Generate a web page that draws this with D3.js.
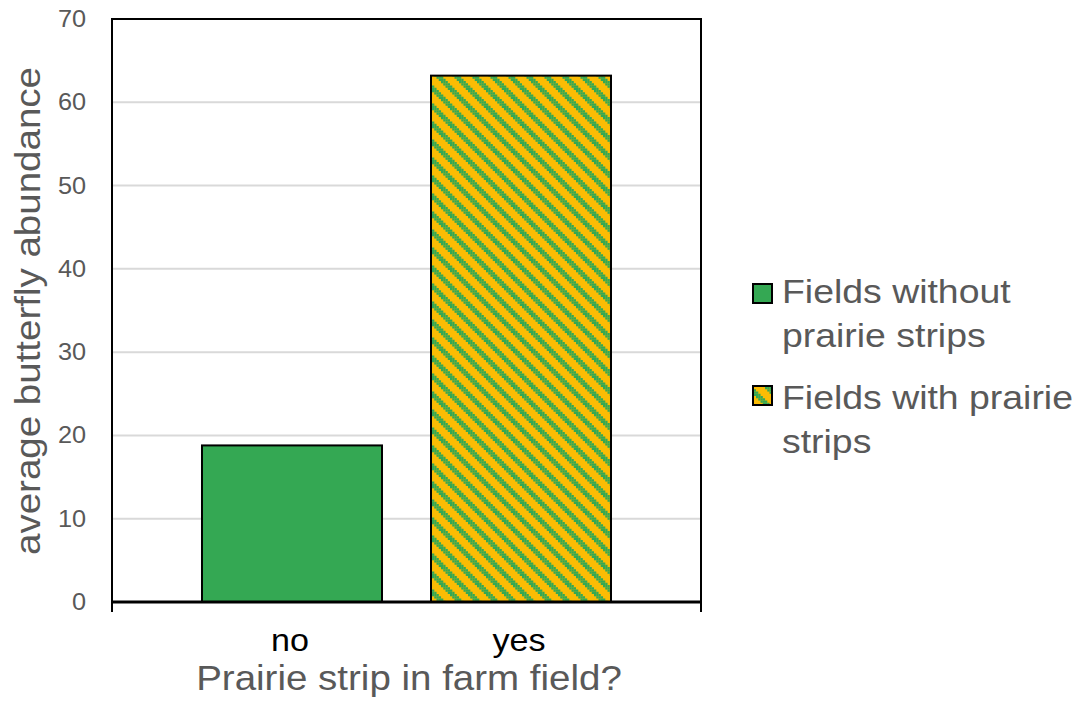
<!DOCTYPE html>
<html><head><meta charset="utf-8">
<script src="https://cdn.jsdelivr.net/npm/d3@7"></script>
<style>body{margin:0;background:#fff}svg{display:block}text{font-family:"Liberation Sans",Arial,sans-serif}</style>
</head><body>
<svg id="c" width="1084" height="706"></svg>
<script>
const categories = ["no", "yes"];
const values = [18.8, 63.2];
const seriesNames = ["Fields without prairie strips", "Fields with prairie strips"];
const legendLines = [["Fields without", "prairie strips"], ["Fields with prairie", "strips"]];
const yTicks = [0, 10, 20, 30, 40, 50, 60, 70];
const xTitle = "Prairie strip in farm field?";
const yTitle = "average butterfly abundance";

const GREEN = "#34a853", YELLOW = "#fbbc04", GREY = "#595959";
const SX = 1.1; // horizontal text stretch
const svg = d3.select("#c");
const L = 112, R = 701, T = 19, B = 602;

// pattern: wide downward diagonal, 8x8 bitmap scaled
const CELL = 2.25;
const defs = svg.append("defs");
const pat = defs.append("pattern").attr("id", "diag").attr("patternUnits", "userSpaceOnUse")
  .attr("width", CELL * 8).attr("height", CELL * 8);
pat.append("rect").attr("width", CELL * 8).attr("height", CELL * 8).attr("fill", YELLOW);
for (let r = 0; r < 8; r++) for (let k = 0; k < 3; k++) {
  pat.append("rect").attr("x", ((r + k) % 8) * CELL).attr("y", r * CELL)
    .attr("width", CELL + 0.05).attr("height", CELL + 0.05).attr("fill", GREEN);
}
const fills = [GREEN, "url(#diag)"];

const y = d3.scaleLinear().domain([0, 70]).range([B, T]);
const x = d3.scaleBand().domain(categories).range([L, R]).paddingInner(0.214).paddingOuter(0.393);

function stext(g, tx, ty, str, size, fill, anchor, rot) {
  return g.append("text")
    .attr("transform", `translate(${tx},${ty})` + (rot ? ` rotate(${rot})` : "") + ` scale(${SX},1)`)
    .attr("text-anchor", anchor || "start").attr("font-size", size).attr("fill", fill).text(str);
}

// gridlines
svg.append("g").selectAll("line").data(yTicks.filter(d => d > 0 && d < 70)).join("line")
  .attr("x1", L).attr("x2", R).attr("y1", d => y(d)).attr("y2", d => y(d))
  .attr("stroke", "#d9d9d9").attr("stroke-width", 2);

// bars
svg.append("g").selectAll("rect").data(categories).join("rect")
  .attr("x", d => x(d)).attr("width", x.bandwidth())
  .attr("y", (d, i) => y(values[i])).attr("height", (d, i) => B - y(values[i]))
  .attr("fill", (d, i) => fills[i]).attr("stroke", "#000").attr("stroke-width", 2);

// frame
svg.append("path").attr("d", `M${L},${B}V${T}H${R}V${B}`).attr("fill", "none").attr("stroke", "#000").attr("stroke-width", 2);

// y tick labels
const yg = svg.append("g");
yTicks.forEach(t => stext(yg, 86, y(t) + 8, String(t), 23, GREY, "end"));

// x axis
svg.append("line").attr("x1", L - 1).attr("x2", R + 1).attr("y1", B).attr("y2", B).attr("stroke", "#000").attr("stroke-width", 3);
svg.selectAll(".xt").data([L, R]).join("line").attr("class", "xt")
  .attr("x1", d => d).attr("x2", d => d).attr("y1", B).attr("y2", B + 10).attr("stroke", "#000").attr("stroke-width", 2);
const xg = svg.append("g");
categories.forEach(c => stext(xg, x(c) + x.bandwidth() / 2 - 2, 651, c, 31, "#000", "middle"));

// titles
stext(svg, 409, 690, xTitle, 35, GREY, "middle");
stext(svg, 40, 311, yTitle, 35, GREY, "middle", -90);

// legend
const lg = svg.append("g");
const ly = [284, 386];
const lb = [[303, 347], [409, 453]];
seriesNames.forEach((s, i) => {
  lg.append("rect").attr("x", 753).attr("y", ly[i]).attr("width", 19).attr("height", 19)
    .attr("fill", fills[i]).attr("stroke", "#000").attr("stroke-width", 2);
  legendLines[i].forEach((t, j) => stext(lg, 782, lb[i][j], t, 34, GREY, "start"));
});
</script>
</body></html>
